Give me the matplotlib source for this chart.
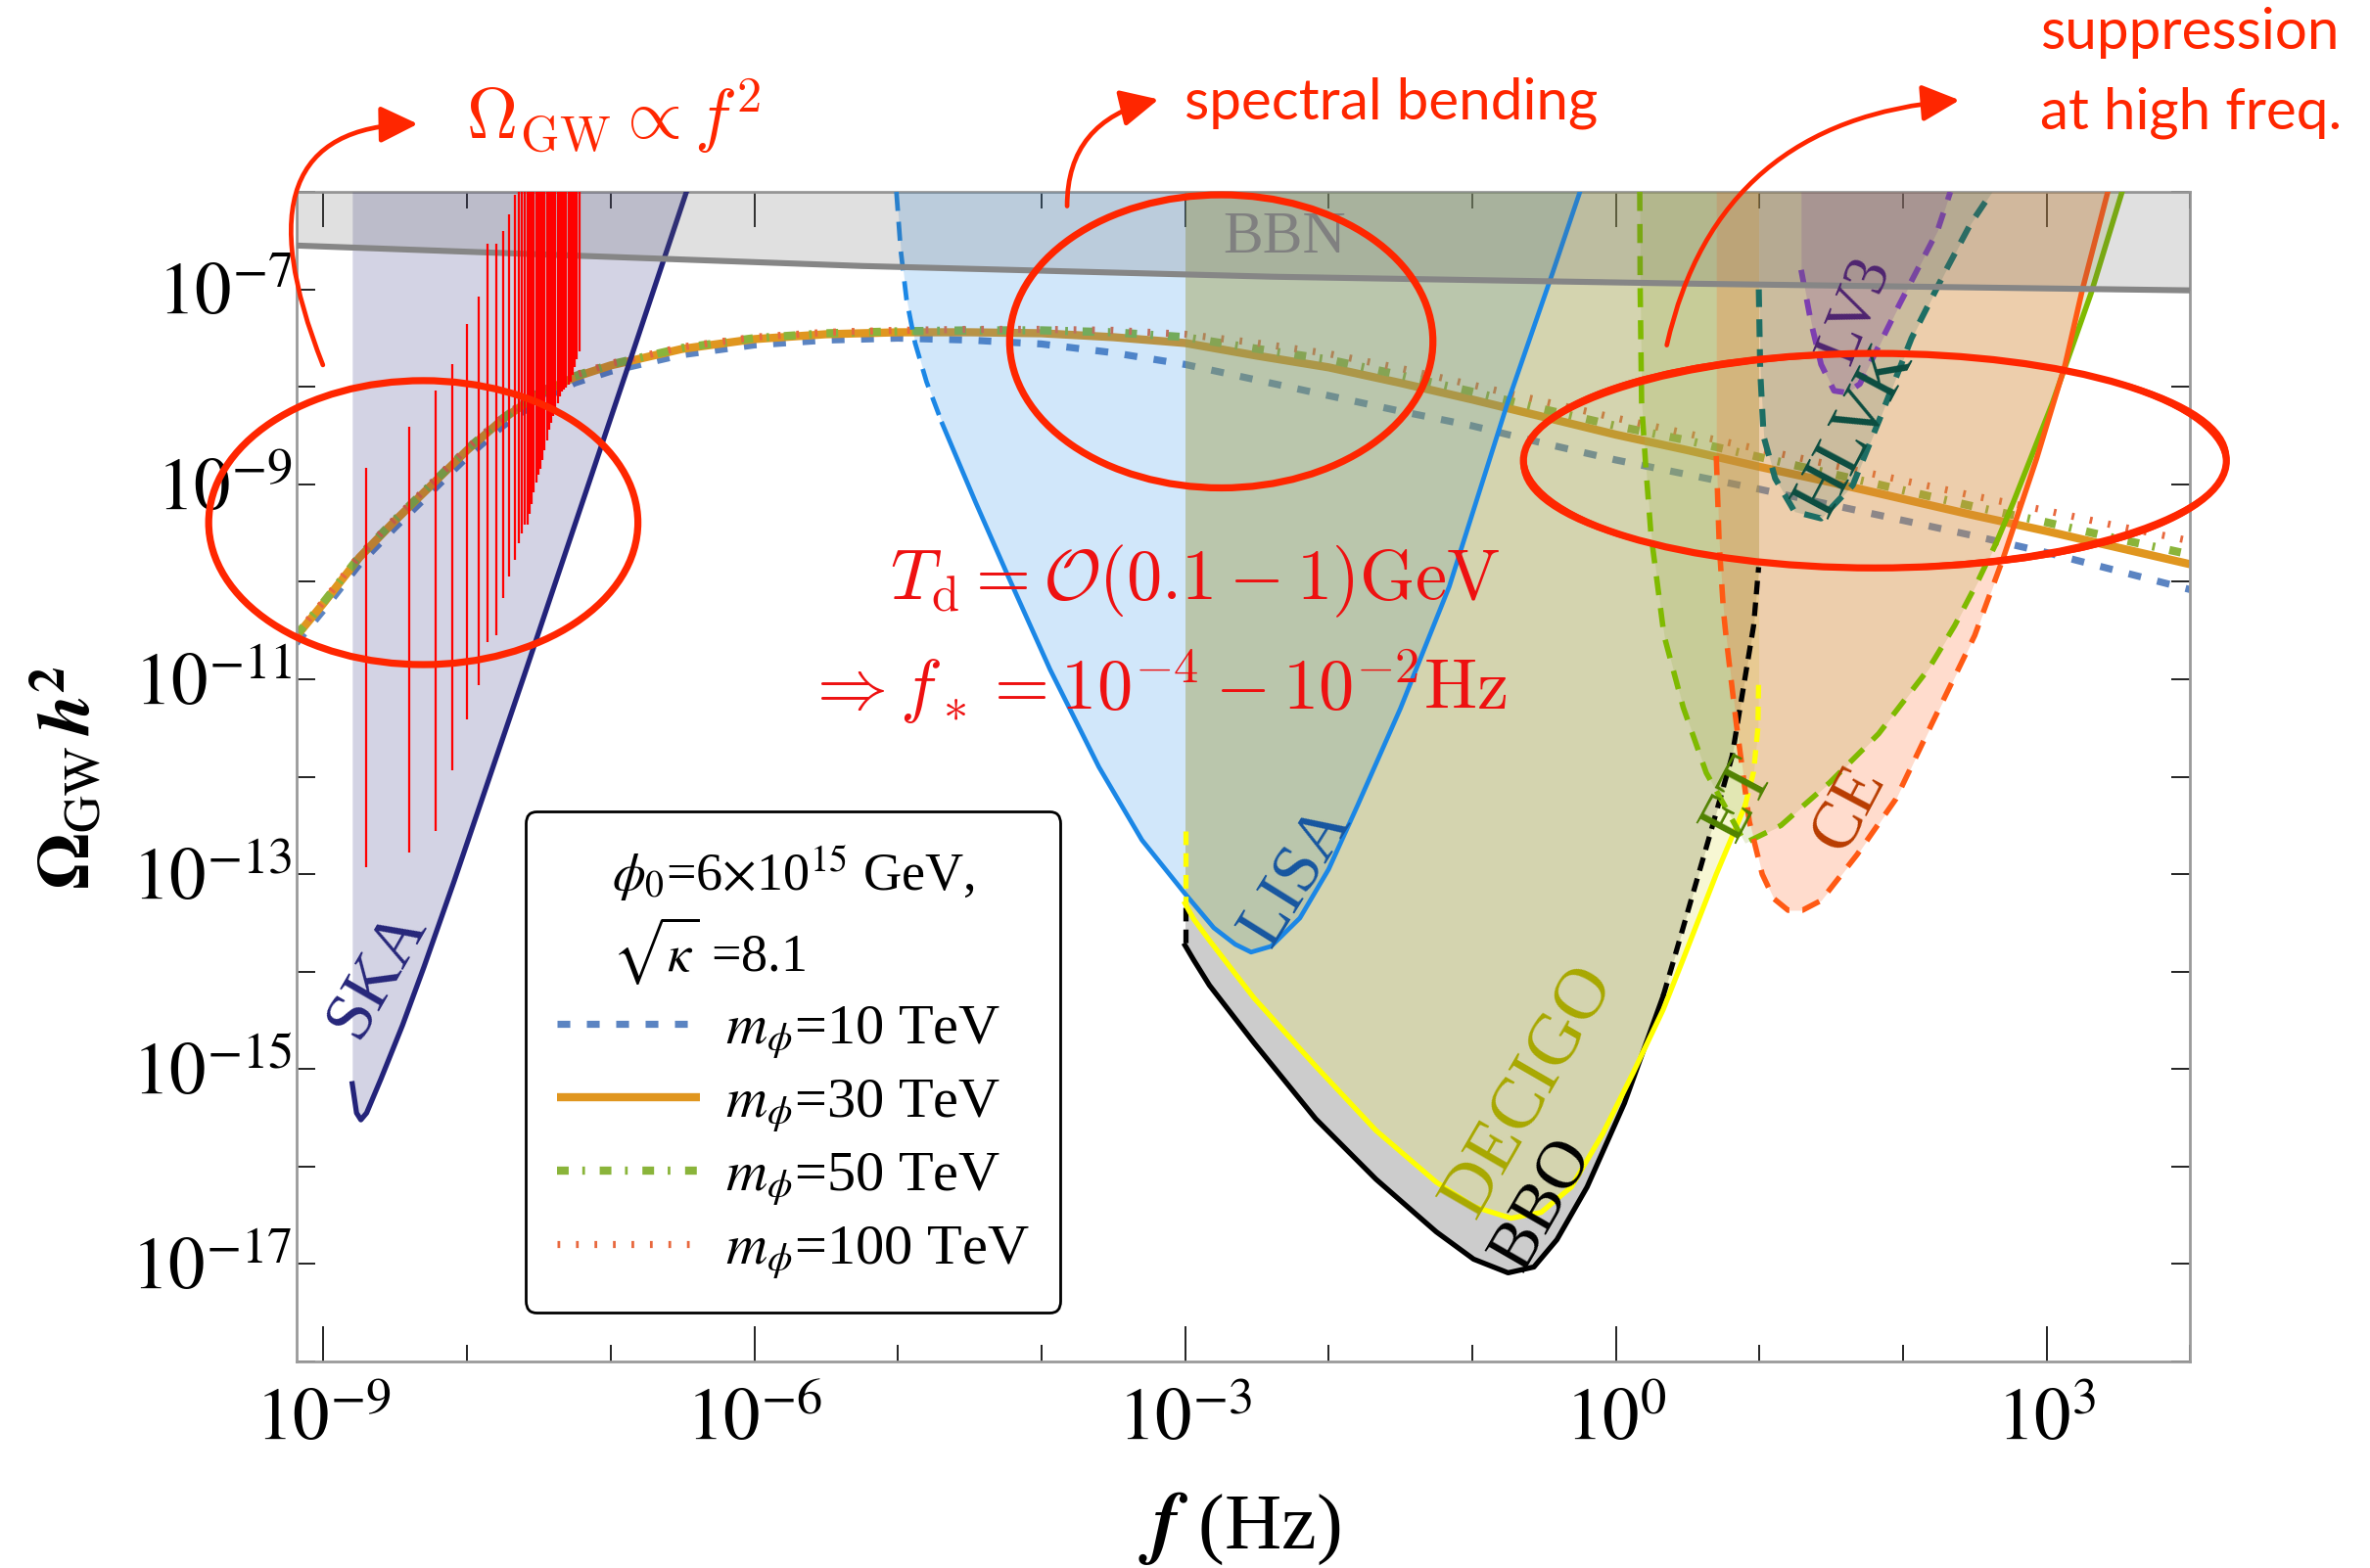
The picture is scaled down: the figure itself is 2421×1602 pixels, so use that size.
import numpy as np
import matplotlib
matplotlib.use("Agg")
import matplotlib.pyplot as plt
from matplotlib.patches import Ellipse, FancyArrowPatch
from matplotlib.lines import Line2D
from matplotlib.ticker import FixedLocator, FixedFormatter, NullFormatter

plt.rcParams["font.family"] = ["Liberation Serif", "DejaVu Serif"]
plt.rcParams["mathtext.fontset"] = "stix"
plt.rcParams["lines.scale_dashes"] = False

# ---------------- data: log10 values ----------------
log_f = [-9.19, -9.0, -8.75, -8.5, -8.25, -8.0, -7.75, -7.5, -7.25, -7.0, -6.5, -6.0, -5.5,
         -5.0, -4.5, -4.0, -3.5, -3.0, -2.5, -2.0, -1.5, -1.0, -0.5, 0.0, 0.5, 1.0, 1.5,
         2.0, 2.5, 3.0, 3.5, 4.0]
log_omega_10tev = [-10.63, -10.29, -9.82, -9.44, -9.08, -8.72, -8.40, -8.14, -7.96, -7.84, -7.67,
                   -7.57, -7.52, -7.50, -7.52, -7.56, -7.65, -7.77, -7.93, -8.09, -8.25, -8.40,
                   -8.58, -8.75, -8.90, -9.05, -9.21, -9.37, -9.53, -9.70, -9.89, -10.08]
log_omega_30tev = [-10.56, -10.22, -9.75, -9.37, -9.01, -8.65, -8.33, -8.07, -7.90, -7.78, -7.61,
                   -7.51, -7.46, -7.44, -7.44, -7.45, -7.49, -7.55, -7.68, -7.80, -7.96, -8.13,
                   -8.31, -8.49, -8.65, -8.82, -8.98, -9.15, -9.32, -9.48, -9.65, -9.82]
log_omega_50tev = [-10.55, -10.21, -9.74, -9.36, -9.00, -8.64, -8.32, -8.06, -7.89, -7.77, -7.60,
                   -7.50, -7.45, -7.43, -7.42, -7.42, -7.44, -7.49, -7.61, -7.72, -7.88, -8.05,
                   -8.23, -8.40, -8.55, -8.72, -8.89, -9.06, -9.23, -9.39, -9.56, -9.72]
log_omega_100tev = [-10.54, -10.20, -9.73, -9.35, -8.99, -8.63, -8.31, -8.05, -7.88, -7.76, -7.59,
                    -7.49, -7.44, -7.42, -7.41, -7.41, -7.42, -7.46, -7.55, -7.66, -7.81, -7.98,
                    -8.15, -8.32, -8.48, -8.64, -8.80, -8.96, -9.12, -9.27, -9.43, -9.58]
legend_labels = [r"$m_\phi$=10 TeV", r"$m_\phi$=30 TeV", r"$m_\phi$=50 TeV", r"$m_\phi$=100 TeV"]
legend_title = r"$\phi_0$=6$\times$10$^{15}$ GeV," + "\n" + r"$\sqrt{\kappa}$ =8.1"

bbn_log_f = [-9.19, -5.25, -2.39, 0.47, 4.0]
bbn_log_omega = [-6.55, -6.76, -6.87, -6.94, -7.01]

ska_log_f = [-8.80, -8.77, -8.74, -8.70, -8.60, -8.45, -8.30, -8.09, -7.60, -6.89, -6.45]
ska_log_omega = [-15.15, -15.45, -15.52, -15.45, -15.10, -14.55, -13.95, -13.07, -10.95, -7.84, -5.90]

lisa_log_f = [-5.01, -4.98, -4.94, -4.88, -4.80, -4.69, -4.46, -4.23, -3.94, -3.60, -3.30, -3.00,
              -2.80, -2.65, -2.54, -2.40, -2.20, -2.00, -1.80, -1.50, -1.16, -0.755, -0.44, -0.25]
lisa_log_omega = [-6.0, -6.6, -7.1, -7.55, -7.95, -8.38, -9.18, -9.95, -10.9, -11.9, -12.65, -13.2,
                  -13.55, -13.72, -13.8, -13.74, -13.45, -12.95, -12.3, -11.3, -10.05, -8.17, -6.83, -6.0]

decigo_log_f = [-3.0, -3.0, -2.94, -2.83, -2.52, -2.09, -1.67, -1.25, -0.99, -0.73, -0.52, -0.31,
                -0.09, 0.12, 0.33, 0.47, 0.70, 0.90, 0.96, 0.99, 0.995]
decigo_log_omega = [-12.56, -13.30, -13.46, -13.68, -14.27, -14.97, -15.63, -16.16, -16.41, -16.53,
                    -16.47, -16.21, -15.66, -15.04, -14.39, -13.87, -13.0, -12.3, -11.95, -11.5, -11.0]

bbo_log_f = [-3.0, -3.0, -2.94, -2.83, -2.52, -2.09, -1.67, -1.25, -0.99, -0.75, -0.57, -0.41,
             -0.20, 0.06, 0.33, 0.40, 0.655, 0.81, 0.96, 0.995]
bbo_log_omega = [-13.34, -13.73, -13.88, -14.14, -14.73, -15.51, -16.13, -16.67, -16.95, -17.09,
                 -17.03, -16.75, -16.21, -15.35, -14.25, -13.9, -12.6, -11.79, -10.45, -9.85]

et_log_f = [0.167, 0.17, 0.18, 0.21, 0.245, 0.336, 0.47, 0.63, 0.77, 0.90, 1.15, 1.49, 1.83, 2.18,
            2.36, 2.52, 2.65, 2.77, 3.04, 3.31, 3.53]
et_log_omega = [-6.0, -7.0, -8.17, -8.84, -9.51, -10.55, -11.29, -11.96, -12.33, -12.68, -12.50,
                -12.06, -11.56, -10.89, -10.45, -10.0, -9.6, -9.18, -8.17, -7.04, -5.98]

ce_log_f = [0.70, 0.70, 0.72, 0.75, 0.77, 0.84, 0.93, 1.02, 1.10, 1.20, 1.30, 1.43, 1.68, 1.95,
            2.20, 2.50, 2.70, 2.93, 3.13, 3.25, 3.43]
ce_log_omega = [-6.0, -8.71, -9.6, -10.3, -10.59, -11.46, -12.46, -13.0, -13.25, -13.37, -13.37,
                -13.27, -12.80, -12.23, -11.46, -10.55, -9.75, -8.74, -7.77, -7.0, -5.98]

hlvk_log_f = [0.995, 0.996, 1.006, 1.03, 1.11, 1.245, 1.43, 1.65, 1.835, 2.06, 2.29, 2.47, 2.62]
hlvk_log_omega = [-6.0, -7.0, -7.84, -8.51, -8.94, -9.28, -9.35, -9.01, -8.34, -7.50, -6.83, -6.33, -6.0]

lv3_log_f = [1.29, 1.291, 1.36, 1.43, 1.52, 1.61, 1.70, 1.835, 1.97, 2.11, 2.24, 2.33]
lv3_log_omega = [-6.0, -6.80, -7.34, -7.77, -8.04, -8.06, -7.97, -7.57, -7.17, -6.77, -6.40, -6.0]

spike_log_f = [-8.70, -8.40, -8.22, -8.10, -8.00, -7.92, -7.86, -7.80, -7.75, -7.71, -7.67, -7.64,
               -7.62, -7.60, -7.58, -7.565, -7.55, -7.535, -7.52, -7.505, -7.49, -7.475, -7.46,
               -7.445, -7.43, -7.415, -7.40, -7.385, -7.37, -7.355, -7.34, -7.325, -7.31, -7.295,
               -7.28, -7.265, -7.25, -7.235, -7.22]
spike_log_top = [-8.83, -8.41, -8.04, -7.77, -7.35, -7.07, -6.53, -6.53, -6.40, -6.23, -6.03, -5.8,
                 -5.8, -5.8, -5.8, -5.8, -5.8, -5.8, -5.8, -5.8, -5.8, -5.8, -5.8, -5.8, -5.8,
                 -5.8, -5.8, -5.8, -5.8, -5.8, -5.8, -5.8, -5.8, -5.8, -5.8, -5.8, -5.8, -5.8, -5.8]
spike_log_bottom = [-12.93, -12.78, -12.56, -11.93, -11.41, -11.06, -10.62, -10.55, -10.17, -9.95,
                    -9.78, -9.60, -9.50, -9.41, -9.41, -9.30, -9.20, -9.08, -8.98, -8.90, -8.84,
                    -8.75, -8.65, -8.55, -8.44, -8.37, -8.30, -8.23, -8.17, -8.10, -8.05, -8.03,
                    -8.01, -7.98, -7.95, -7.88, -7.80, -7.72, -7.64]

x_major_exp = [-9, -6, -3, 0, 3]
x_tick_labels = [r"$10^{-9}$", r"$10^{-6}$", r"$10^{-3}$", r"$10^{0}$", r"$10^{3}$"]
x_minor_exp = [-8, -7, -5, -4, -2, -1, 1, 2, 4]
y_major_exp = [-17, -15, -13, -11, -9, -7]
y_tick_labels = [r"$10^{-17}$", r"$10^{-15}$", r"$10^{-13}$", r"$10^{-11}$", r"$10^{-9}$", r"$10^{-7}$"]
y_minor_exp = [-18, -16, -14, -12, -10, -8, -6]

detector_names = ["SKA", "LISA", "DECIGO", "BBO", "ET", "CE", "HLVK", "LV3", "BBN"]
label_log_f = [-8.62, -2.22, -0.60, -0.50, 0.86, 1.63, 1.67, 1.67, -2.31]
label_log_omega = [-14.03, -13.02, -15.23, -16.39, -12.23, -12.33, -8.45, -7.22, -6.47]


def P(a):
    return 10.0 ** np.asarray(a, dtype=float)


TOP = 1e-6

fig = plt.figure(figsize=(12.105, 8.01), dpi=200)
ax = fig.add_axes([0.1250, 0.1317, 0.7991, 0.7459])
ax.set_xscale("log")
ax.set_yscale("log")

# ---------------- spectra ----------------
spec_styles = [
    dict(color="#5b84c2", lw=2.6, ls=(0, (4.7, 6.1))),
    dict(color="#e0961f", lw=3.0, ls="-"),
    dict(color="#8ab43a", lw=3.0, ls=(0, (4.3, 5.0, 1.0, 5.4))),
    dict(color="#e8683e", lw=2.6, ls=(0, (1.0, 5.8))),
]
for k, ys in enumerate([log_omega_10tev, log_omega_30tev, log_omega_50tev, log_omega_100tev]):
    ax.plot(P(log_f), P(ys), dash_capstyle="butt", solid_capstyle="butt", zorder=2 + 0.1 * k,
            **spec_styles[k])


# ---------------- sensitivity regions ----------------
def region(lf, lo, color, alpha, z=3):
    ax.fill_between(P(lf), P(lo), TOP, color=color, alpha=alpha, lw=0, zorder=z)


region(ska_log_f, ska_log_omega, "#23237a", 0.20)
region(lisa_log_f, lisa_log_omega, "#1b87e6", 0.20)
region(bbo_log_f, bbo_log_omega, "black", 0.20)
region(decigo_log_f, decigo_log_omega, "#e7e76e", 0.30)
region(et_log_f, et_log_omega, "#a4b856", 0.25)
region(ce_log_f, ce_log_omega, "#ff641e", 0.22)
region(hlvk_log_f, hlvk_log_omega, "#1e645a", 0.16)
region(lv3_log_f, lv3_log_omega, "#783ca0", 0.20)
ax.fill_between(P(bbn_log_f), P(bbn_log_omega), TOP, color="#646464", alpha=0.20, lw=0, zorder=4.5)


def seg(lf, lo, sl, **kw):
    ax.plot(P(lf)[sl], P(lo)[sl], zorder=4, dash_capstyle="butt", **kw)


seg(ska_log_f, ska_log_omega, slice(None), color="#23237a", lw=1.9)
seg(lisa_log_f, lisa_log_omega, slice(0, 6), color="#1b87e6", lw=1.7, ls=(0, (7, 4)))
seg(lisa_log_f, lisa_log_omega, slice(5, None), color="#1b87e6", lw=1.7)
seg(bbo_log_f, bbo_log_omega, slice(0, 2), color="black", lw=1.9, ls=(0, (5, 3)))
seg(bbo_log_f, bbo_log_omega, slice(1, 15), color="black", lw=1.9)
seg(bbo_log_f, bbo_log_omega, slice(14, None), color="black", lw=1.9, ls=(0, (5, 3)))
seg(decigo_log_f, decigo_log_omega, slice(0, 2), color="#ffff00", lw=1.9, ls=(0, (5, 3)))
seg(decigo_log_f, decigo_log_omega, slice(1, 18), color="#ffff00", lw=1.9)
seg(decigo_log_f, decigo_log_omega, slice(17, None), color="#ffff00", lw=1.9, ls=(0, (5, 3)))
seg(et_log_f, et_log_omega, slice(0, 17), color="#7fba00", lw=2.0, ls=(0, (7, 4.8)))
seg(et_log_f, et_log_omega, slice(16, None), color="#7fba00", lw=2.0)
seg(ce_log_f, ce_log_omega, slice(1, 17), color="#ff5a14", lw=2.0, ls=(0, (7, 4.8)))
seg(ce_log_f, ce_log_omega, slice(16, None), color="#ff5a14", lw=2.0)
seg(hlvk_log_f, hlvk_log_omega, slice(1, None), color="#1d6e64", lw=2.2, ls=(0, (6.5, 4.5)))
seg(lv3_log_f, lv3_log_omega, slice(1, None), color="#7d3fb0", lw=2.1, ls=(0, (6, 5)))

ax.plot(P(bbn_log_f), P(bbn_log_omega), color="#868686", lw=2.2, zorder=5)

# labels
label_colors = ["#26267a", "#1656a0", "#a8a800", "black", "#508200", "#b83c00", "#0b4d40",
                "#4e2470", "#808080"]
label_rot = [60, 58, 60, 60, 62, 62, 62, 68, 0]
label_size = [25, 25, 27, 25, 25, 25, 25, 23, 22]
for name, lf, lo, c, r, s in zip(detector_names, label_log_f, label_log_omega, label_colors,
                                 label_rot, label_size):
    ax.text(P(lf), P(lo), name, color=c, rotation=r, fontsize=s, ha="center", va="center",
            rotation_mode="anchor", zorder=6)

# oscillating red trace
ax.vlines(P(spike_log_f), P(spike_log_bottom), P(spike_log_top), color="#ff0000", lw=0.8, zorder=7)

# ---------------- axes ----------------
ax.set_xlim(10 ** -9.19, 1e4)
ax.set_ylim(1e-18, TOP)
ax.xaxis.set_major_locator(FixedLocator(P(x_major_exp)))
ax.xaxis.set_major_formatter(FixedFormatter(x_tick_labels))
ax.xaxis.set_minor_locator(FixedLocator(P(x_minor_exp)))
ax.xaxis.set_minor_formatter(NullFormatter())
ax.yaxis.set_major_locator(FixedLocator(P(y_major_exp)))
ax.yaxis.set_major_formatter(FixedFormatter(y_tick_labels))
ax.yaxis.set_minor_locator(FixedLocator(P(y_minor_exp)))
ax.yaxis.set_minor_formatter(NullFormatter())
ax.tick_params(axis="x", which="major", direction="in", length=13, width=0.7, top=True,
               bottom=True, pad=10, labelsize=27, color="#222222")
ax.tick_params(axis="x", which="minor", direction="in", length=6, width=0.7, top=True,
               bottom=True, color="#222222")
ax.tick_params(axis="y", which="both", direction="in", length=7, width=0.7, left=True,
               right=True, pad=1.5, labelsize=27, color="#222222")
for sp in ax.spines.values():
    sp.set_color("#9a9a9a")
    sp.set_linewidth(1.0)

fig.text(0.0287, 0.504, r"$\mathbf{\Omega}_{\mathrm{GW}}\,\mathbfit{h}^{\mathbf{2}}$",
         rotation=90, ha="center", va="center", fontsize=27)
fig.text(0.523, 0.025, r"$\mathbfit{f}$ (Hz)", ha="center", va="center", fontsize=29)

# legend
handles = [Line2D([], [], dash_capstyle="butt", solid_capstyle="butt", **st) for st in spec_styles]
leg = ax.legend(handles, legend_labels, title=legend_title, loc="upper left",
                bbox_to_anchor=(0.121, 0.470), borderaxespad=0.0, fontsize=21,
                title_fontsize=19.5, frameon=True, fancybox=True, edgecolor="black",
                framealpha=1, handlelength=2.5, handletextpad=0.45, labelspacing=0.28,
                borderpad=0.55)
leg.get_frame().set_linewidth(1.0)
leg.set_zorder(10)

# ---------------- annotations ----------------
red = "#ff2600"
fig.text(0.259, 0.926, r"$\Omega_{\rm GW}\propto f^2$", color=red, fontsize=26, ha="center",
         va="center", math_fontfamily="cm")
fig.text(0.587, 0.934, "spectral bending", color=red, fontsize=21, ha="center", va="center",
         family="Lato")
fig.text(0.861, 0.979, "suppression", color=red, fontsize=21, ha="left", va="center", family="Lato")
fig.text(0.861, 0.928, "at high freq.", color=red, fontsize=21, ha="left", va="center",
         family="Lato")
fig.text(0.504, 0.629, r"$T_{\rm d}=\mathcal{O}(0.1-1)\mathrm{GeV}$", color="#ee1111",
         fontsize=26, ha="center", va="center", math_fontfamily="cm", zorder=8)
fig.text(0.488, 0.562, r"$\Rightarrow f_* = 10^{-4}-10^{-2}\mathrm{Hz}$", color="#ee1111",
         fontsize=26, ha="center", va="center", math_fontfamily="cm", zorder=8)

ellipses = [((0.1786, 0.6667), 0.1811, 0.1811), ((0.5153, 0.7823), 0.1786, 0.1869),
            ((0.7911, 0.7062), 0.2966, 0.1368)]
jitter = [(0.0, 0.0, 0.0, 2.6), (0.0015, -0.002, 1.2, 0.8), (-0.0015, 0.0015, -1.0, 0.8)]
for (c, w, h) in ellipses:
    for dw, dh, ang, lw in jitter:
        fig.add_artist(Ellipse(c, w + dw, h + dh, angle=ang, transform=fig.transFigure,
                               fill=False, ec=red, lw=lw, zorder=20))

arrows = [((0.1371, 0.7640), (0.1786, 0.9210), 112, 0),
          ((0.4503, 0.8651), (0.4911, 0.9374), 92, 12),
          ((0.7028, 0.7765), (0.8291, 0.9364), 78, 4)]
for a, b, angA, angB in arrows:
    fig.add_artist(FancyArrowPatch(a, b, transform=fig.transFigure,
                                   connectionstyle=f"angle3,angleA={angA},angleB={angB}",
                                   arrowstyle="-|>,head_length=0.45,head_width=0.22",
                                   mutation_scale=26, color=red, lw=1.7, zorder=20))

fig.savefig("out.png", dpi=200)
